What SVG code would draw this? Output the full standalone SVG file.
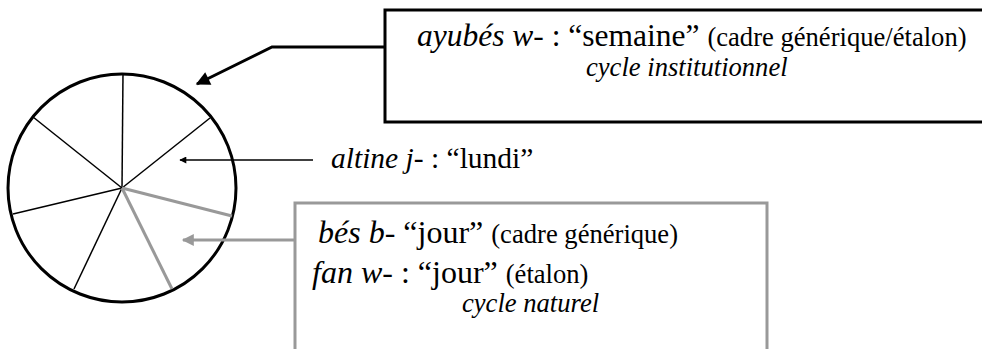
<svg xmlns="http://www.w3.org/2000/svg" width="982" height="349" viewBox="0 0 982 349">
<defs>
<style>
.m{font-size:31.5px}
.g{font-size:32px}
.a{font-size:29.5px}
.p{font-size:26.6px}
.i{font-style:italic}
.blk{stroke:#000;fill:none}
.gry{stroke:#999;fill:none}
</style>
<marker id="at" viewBox="0 0 10 10" refX="9" refY="5" markerWidth="9" markerHeight="7" markerUnits="userSpaceOnUse" orient="auto"><path d="M0,0L10,5L0,10z" fill="#000"/></marker>
<marker id="ab" viewBox="0 0 10 10" refX="9" refY="5" markerWidth="18" markerHeight="14" markerUnits="userSpaceOnUse" orient="auto"><path d="M0,0L10,5L0,10z" fill="#000"/></marker>
<marker id="ag" viewBox="0 0 10 10" refX="9" refY="5" markerWidth="15" markerHeight="12" markerUnits="userSpaceOnUse" orient="auto"><path d="M0,0L10,5L0,10z" fill="#999"/></marker>
</defs>
<g id="week">
<circle cx="122" cy="188" r="114" class="blk" stroke-width="3"/>
<g class="blk" stroke-width="1.5">
<line x1="122" y1="188" x2="123" y2="73"/>
<line x1="122" y1="188" x2="210" y2="118"/>
<line x1="122" y1="188" x2="33" y2="117"/>
<line x1="122" y1="188" x2="13" y2="214"/>
<line x1="122" y1="188" x2="74" y2="289"/>
</g>
<g class="gry" stroke-width="3">
<line x1="122" y1="188" x2="232" y2="216"/>
<line x1="122" y1="188" x2="172" y2="289"/>
</g>
</g>
<g font-family="'Liberation Serif', 'Times New Roman', serif" fill="#000">
<g id="semaine">
<path d="M385,10H984V122H385z" class="blk" stroke-width="3"/>
<text x="417" y="46" class="m"><tspan class="i">ayubés w</tspan>- : “semaine” <tspan class="p">(cadre générique/étalon)</tspan></text>
<text x="586" y="76" class="p i">cycle institutionnel</text>
</g>
<g id="lundi">
<text x="331" y="168" class="a"><tspan class="i">altine j</tspan>- : “lundi”</text>
</g>
<g id="jour">
<path d="M295,360V203H767V360" class="gry" stroke-width="3"/>
<text x="318" y="243" class="g"><tspan class="i">bés b</tspan>- “jour” <tspan class="p">(cadre générique)</tspan></text>
<text x="312" y="283" class="g"><tspan class="i">fan w</tspan>- : “jour” <tspan class="p">(étalon)</tspan></text>
<text x="462" y="312" class="p i">cycle naturel</text>
</g>
</g>
<g id="connectors">
<polyline points="385,47 272,47 197,84" class="blk" stroke-width="3" marker-end="url(#ab)"/>
<line x1="313" y1="160" x2="180" y2="160" class="blk" stroke-width="1.5" marker-end="url(#at)"/>
<line x1="295" y1="240" x2="183" y2="240" class="gry" stroke-width="3" marker-end="url(#ag)"/>
</g>
</svg>
